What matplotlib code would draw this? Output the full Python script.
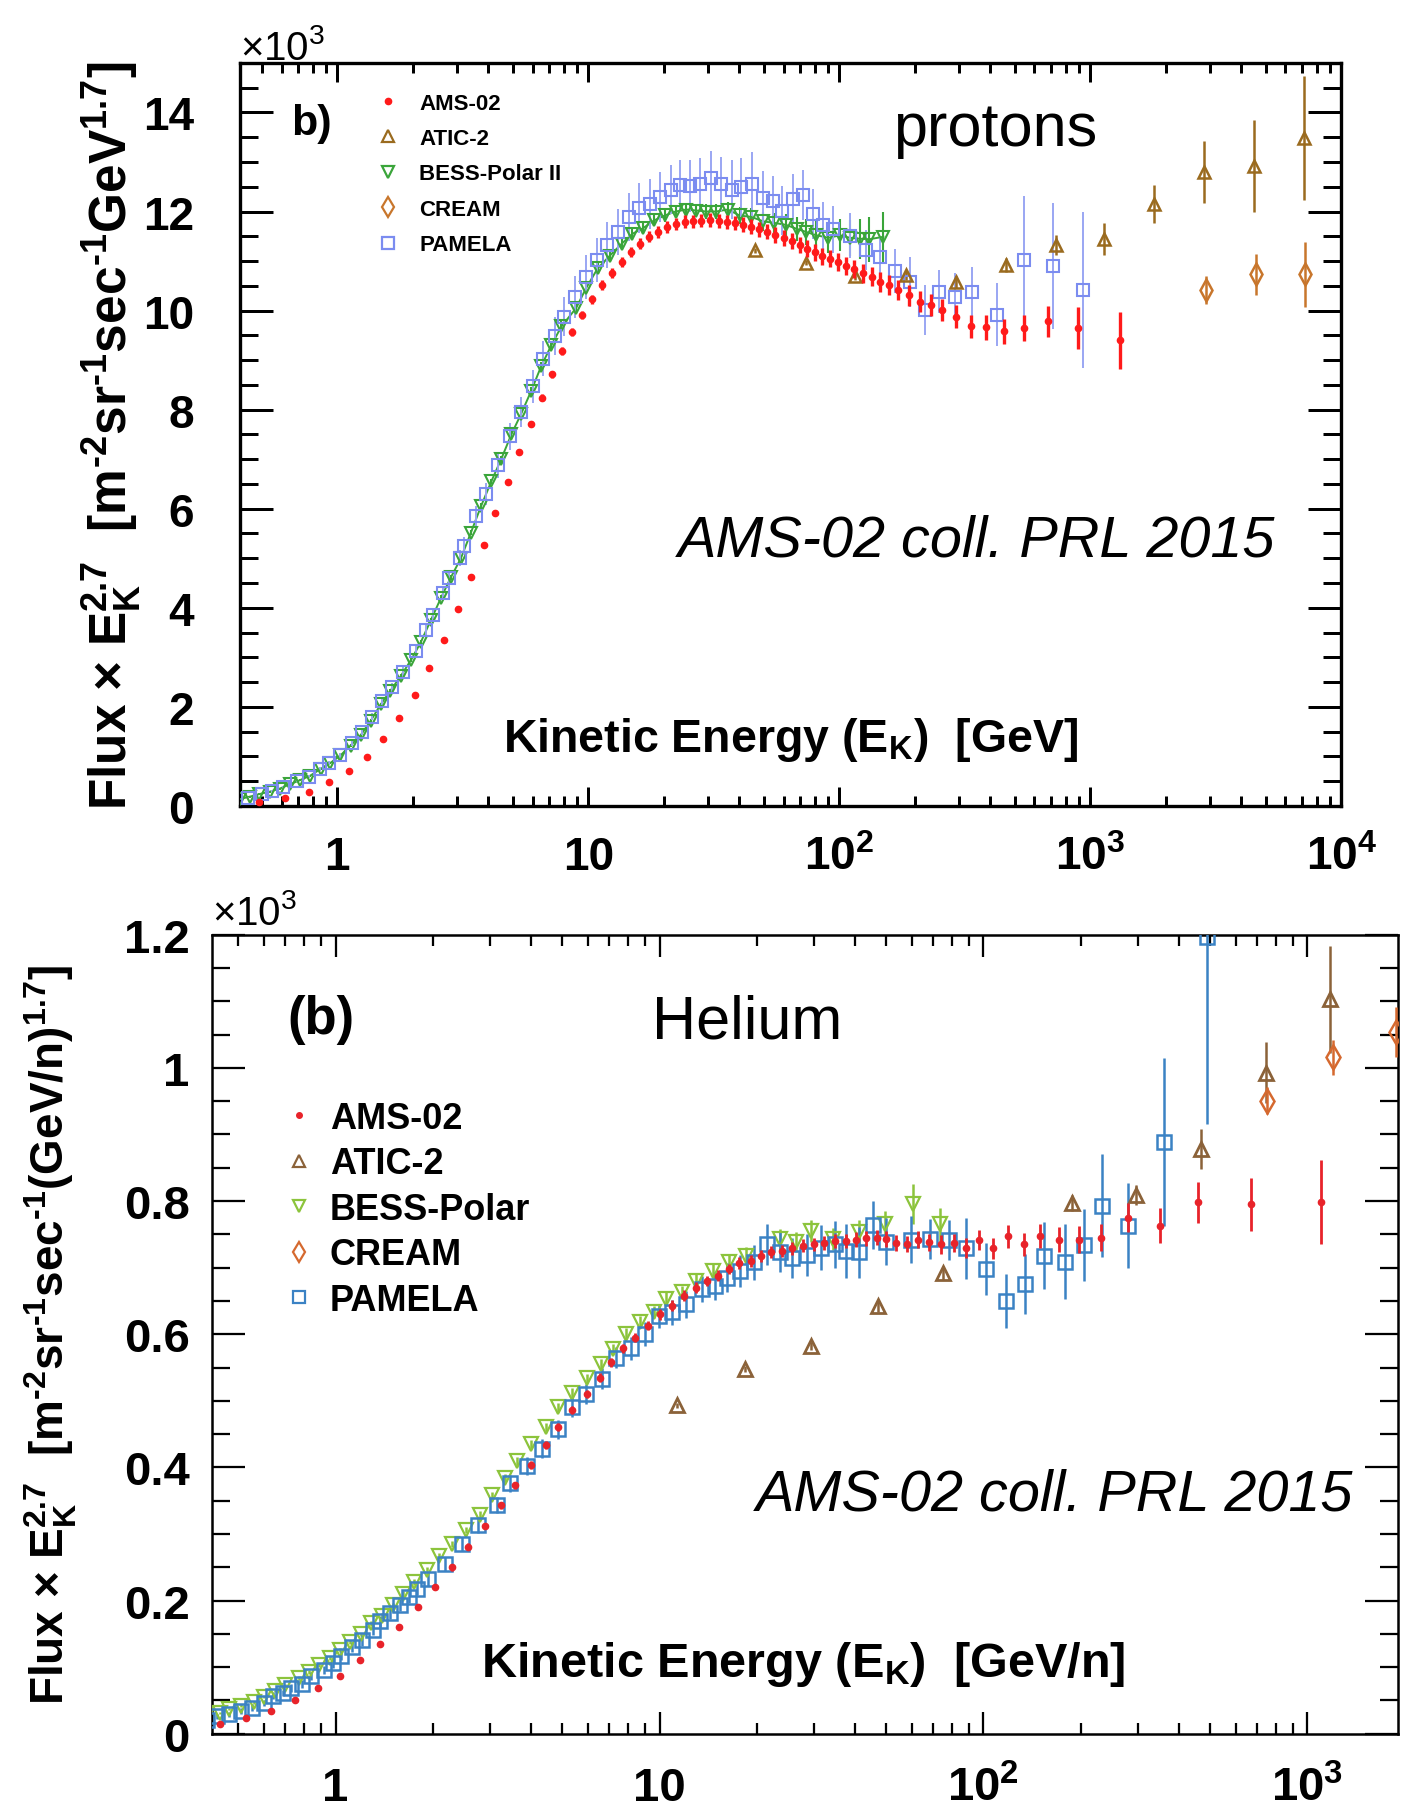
import matplotlib
matplotlib.use("Agg")
import matplotlib.pyplot as plt
from matplotlib.lines import Line2D
from matplotlib.ticker import FixedLocator, LogLocator, NullFormatter, MultipleLocator

plt.rcParams['font.family'] = ['Liberation Sans', 'DejaVu Sans']
plt.rcParams['mathtext.fontset'] = 'custom'
plt.rcParams['mathtext.rm'] = 'Liberation Sans:bold'
plt.rcParams['mathtext.bf'] = 'Liberation Sans:bold'
plt.rcParams['mathtext.it'] = 'Liberation Sans:italic:bold'
plt.rcParams['mathtext.sf'] = 'Liberation Sans'

# ---------------- protons (values in units of 10^3) ----------------
p_ams_e = [0.49, 0.62, 0.77, 0.93, 1.11, 1.31, 1.52, 1.77, 2.04, 2.33,
           2.67, 3.02, 3.40, 3.83, 4.27, 4.77, 5.30, 5.89, 6.52, 7.19,
           7.83, 8.63, 9.45, 10.4, 11.4, 12.4, 13.6, 14.8, 16.1, 17.5,
           18.9, 20.6, 22.3, 24.2, 26.2, 28.1, 30.6, 33.1, 35.7, 38.4,
           41.3, 44.7, 48.1, 51.7, 55.6, 60.2, 64.7, 69.5, 74.7, 80.3,
           85.7, 92.1, 99.0, 106, 115, 124, 135, 146, 158, 171,
           190, 210, 232, 258, 293, 335, 384, 452, 546, 680, 898, 1313]
p_ams_v = [0.07, 0.17, 0.29, 0.48, 0.71, 0.99, 1.36, 1.77, 2.24, 2.78,
           3.36, 3.98, 4.62, 5.27, 5.92, 6.54, 7.14, 7.71, 8.24, 8.71,
           9.18, 9.56, 9.91, 10.23, 10.52, 10.75, 10.98, 11.18, 11.35, 11.49,
           11.59, 11.69, 11.74, 11.79, 11.80, 11.81, 11.82, 11.81, 11.79, 11.77,
           11.73, 11.69, 11.64, 11.59, 11.53, 11.47, 11.40, 11.33, 11.25, 11.18,
           11.10, 11.05, 10.98, 10.90, 10.84, 10.75, 10.68, 10.58, 10.52, 10.42,
           10.31, 10.18, 10.11, 10.01, 9.88, 9.68, 9.66, 9.58, 9.65, 9.78, 9.65, 9.40]
p_ams_err = [0.03, 0.03, 0.03, 0.03, 0.03, 0.03, 0.04, 0.04, 0.04, 0.04,
             0.05, 0.05, 0.05, 0.05, 0.06, 0.06, 0.06, 0.07, 0.07, 0.07,
             0.08, 0.08, 0.09, 0.09, 0.10, 0.10, 0.10, 0.10, 0.11, 0.11,
             0.12, 0.12, 0.12, 0.13, 0.13, 0.13, 0.14, 0.14, 0.14, 0.14,
             0.15, 0.15, 0.15, 0.15, 0.16, 0.16, 0.16, 0.16, 0.17, 0.17,
             0.17, 0.17, 0.18, 0.18, 0.18, 0.19, 0.19, 0.20, 0.20, 0.20,
             0.21, 0.21, 0.22, 0.22, 0.23, 0.23, 0.25, 0.25, 0.27, 0.32, 0.42, 0.57]

p_pam_e = [0.44, 0.50, 0.55, 0.61, 0.69, 0.77, 0.85, 0.93, 1.03, 1.15,
           1.26, 1.38, 1.51, 1.66, 1.82, 2.06, 2.26, 2.41, 2.63, 2.80,
           3.07, 3.21, 3.58, 3.90, 4.37, 4.86, 5.41, 6.03, 6.61, 7.36,
           8.03, 8.86, 9.80, 10.8, 11.9, 13.2, 14.6, 16.0, 17.6, 19.3,
           21.3, 23.3, 25.5, 27.9, 30.9, 33.7, 37.3, 40.8, 45.1, 49.5,
           54.6, 59.3, 65.4, 71.6, 78.3, 86.3, 94.8, 110, 128, 146,
           167, 191, 219, 251, 290, 338, 424, 546, 710, 938]
p_pam_v = [0.17, 0.25, 0.30, 0.38, 0.51, 0.59, 0.74, 0.86, 1.02, 1.27,
           1.50, 1.80, 2.12, 2.40, 2.70, 3.12, 3.55, 3.86, 4.30, 4.60,
           5.00, 5.25, 5.86, 6.29, 6.88, 7.46, 7.95, 8.47, 9.03, 9.49,
           9.88, 10.28, 10.68, 11.02, 11.32, 11.59, 11.89, 12.07, 12.15, 12.29,
           12.44, 12.54, 12.51, 12.56, 12.67, 12.56, 12.44, 12.49, 12.56, 12.27,
           12.22, 12.02, 12.25, 12.33, 11.95, 11.72, 11.64, 11.51, 11.22, 11.08,
           10.80, 10.58, 10.01, 10.38, 10.28, 10.37, 9.92, 11.02, 10.90, 10.42]
p_pam_err = [0.02, 0.02, 0.02, 0.03, 0.03, 0.03, 0.04, 0.04, 0.05, 0.05,
             0.06, 0.07, 0.08, 0.09, 0.10, 0.11, 0.12, 0.13, 0.14, 0.15,
             0.16, 0.18, 0.20, 0.22, 0.25, 0.28, 0.30, 0.33, 0.35, 0.38,
             0.40, 0.42, 0.44, 0.45, 0.46, 0.47, 0.48, 0.50, 0.50, 0.50,
             0.50, 0.50, 0.52, 0.52, 0.55, 0.55, 0.60, 0.60, 0.65, 0.55,
             0.50, 0.50, 0.50, 0.50, 0.50, 0.48, 0.48, 0.45, 0.40, 0.40,
             0.45, 0.50, 0.50, 0.43, 0.47, 0.50, 0.64, 1.30, 1.27, 1.57]

p_bess_e = [0.41, 0.45, 0.49, 0.54, 0.59, 0.65, 0.71, 0.78, 0.86, 0.94,
            1.03, 1.13, 1.24, 1.36, 1.49, 1.63, 1.79, 1.97, 2.15, 2.36,
            2.59, 2.84, 3.11, 3.41, 3.74, 4.11, 4.50, 4.94, 5.41, 5.93,
            6.50, 7.13, 7.82, 8.95, 9.80, 10.9, 12.2, 13.6, 15.0, 16.5,
            18.3, 20.2, 22.3, 24.6, 27.0, 29.5, 32.3, 36.0, 40.1, 44.7,
            49.9, 55.2, 61.4, 67.7, 73.6, 81.2, 90.5, 101, 110, 121, 132, 150]
p_bess_v = [0.14, 0.19, 0.24, 0.29, 0.35, 0.44, 0.52, 0.61, 0.75, 0.87,
            1.02, 1.22, 1.43, 1.72, 2.05, 2.33, 2.62, 2.95, 3.30, 3.75,
            4.20, 4.62, 5.00, 5.52, 6.05, 6.55, 7.00, 7.50, 7.92, 8.38,
            8.88, 9.30, 9.68, 10.05, 10.45, 10.85, 11.11, 11.35, 11.55, 11.66,
            11.82, 11.92, 12.00, 12.04, 12.02, 12.00, 12.00, 12.04, 11.92, 11.89,
            11.80, 11.77, 11.73, 11.65, 11.59, 11.52, 11.47, 11.52, 11.47, 11.45, 11.44, 11.49]
p_bess_err = [0.02, 0.02, 0.02, 0.02, 0.02, 0.02, 0.02, 0.02, 0.02, 0.02,
              0.03, 0.03, 0.03, 0.03, 0.03, 0.03, 0.04, 0.04, 0.04, 0.04,
              0.05, 0.05, 0.05, 0.06, 0.06, 0.06, 0.07, 0.07, 0.08, 0.08,
              0.09, 0.09, 0.10, 0.10, 0.10, 0.11, 0.11, 0.11, 0.12, 0.12,
              0.12, 0.13, 0.13, 0.14, 0.14, 0.15, 0.15, 0.16, 0.17, 0.18,
              0.19, 0.20, 0.22, 0.24, 0.26, 0.28, 0.30, 0.32, 0.36, 0.40, 0.45, 0.50]

p_atic_e = [46.4, 73.6, 116, 184, 293, 460, 728, 1135, 1803, 2838, 4508, 7096]
p_atic_v = [11.22, 10.97, 10.70, 10.71, 10.58, 10.92, 11.32, 11.45, 12.15, 12.80, 12.92, 13.49]
p_atic_err = [0.05, 0.06, 0.08, 0.10, 0.12, 0.15, 0.20, 0.32, 0.38, 0.62, 0.92, 1.25]

p_cream_e = [2897, 4560, 7190]
p_cream_v = [10.42, 10.73, 10.73]
p_cream_err = [0.28, 0.41, 0.65]

# ---------------- helium (values in units of 10^3) ----------------
h_ams_e = [0.44, 0.53, 0.63, 0.75, 0.88, 1.03, 1.19, 1.37, 1.57, 1.79,
           2.03, 2.29, 2.57, 2.89, 3.23, 3.59, 4.00, 4.45, 4.86, 5.38,
           5.95, 6.55, 7.10, 7.70, 8.37, 9.20, 10.0, 10.9, 11.9, 13.0,
           14.0, 15.1, 16.4, 17.6, 19.2, 20.6, 22.1, 23.9, 25.7, 27.7,
           29.9, 32.1, 34.7, 37.5, 40.3, 43.4, 46.8, 50.0, 53.7, 57.9,
           62.6, 68.1, 73.9, 80.8, 88.3, 97.0, 107, 119, 133, 149,
           171, 197, 231, 279, 350, 460, 668, 1102]
h_ams_v = [0.015, 0.024, 0.034, 0.050, 0.068, 0.087, 0.110, 0.135, 0.161, 0.190,
           0.220, 0.250, 0.281, 0.312, 0.343, 0.373, 0.404, 0.433, 0.461, 0.486,
           0.510, 0.535, 0.558, 0.579, 0.595, 0.613, 0.630, 0.643, 0.658, 0.670,
           0.680, 0.688, 0.698, 0.707, 0.710, 0.717, 0.723, 0.725, 0.729, 0.733,
           0.735, 0.737, 0.740, 0.740, 0.742, 0.744, 0.745, 0.743, 0.737, 0.735,
           0.742, 0.738, 0.735, 0.737, 0.730, 0.742, 0.729, 0.747, 0.735, 0.747,
           0.742, 0.742, 0.745, 0.775, 0.763, 0.798, 0.795, 0.798]
h_ams_err = [0.003, 0.003, 0.003, 0.003, 0.003, 0.003, 0.004, 0.004, 0.004, 0.004,
             0.004, 0.005, 0.005, 0.005, 0.005, 0.005, 0.006, 0.006, 0.006, 0.006,
             0.006, 0.007, 0.007, 0.007, 0.007, 0.007, 0.008, 0.008, 0.008, 0.008,
             0.008, 0.008, 0.008, 0.009, 0.009, 0.009, 0.009, 0.009, 0.010, 0.010,
             0.010, 0.010, 0.010, 0.011, 0.011, 0.011, 0.011, 0.012, 0.012, 0.012,
             0.013, 0.013, 0.014, 0.014, 0.015, 0.015, 0.016, 0.017, 0.017, 0.018,
             0.019, 0.020, 0.020, 0.022, 0.026, 0.031, 0.040, 0.063]

h_pam_e = [0.40, 0.43, 0.47, 0.51, 0.55, 0.60, 0.64, 0.69, 0.73, 0.79,
           0.84, 0.92, 0.98, 1.04, 1.12, 1.21, 1.30, 1.37, 1.47, 1.58,
           1.68, 1.78, 1.93, 2.17, 2.46, 2.75, 3.15, 3.45, 3.89, 4.34,
           4.86, 5.38, 5.93, 6.66, 7.35, 8.18, 9.00, 9.95, 10.9, 12.1,
           13.5, 14.8, 16.1, 17.7, 19.5, 21.4, 23.5, 25.7, 28.5, 31.5,
           34.7, 37.7, 41.4, 45.7, 50.0, 59.8, 68.4, 78.5, 88.3, 102,
           117, 134, 154, 178, 205, 233, 279, 361, 490]
h_pam_v = [0.021, 0.026, 0.029, 0.034, 0.039, 0.046, 0.057, 0.061, 0.069, 0.075,
           0.086, 0.096, 0.106, 0.117, 0.130, 0.140, 0.156, 0.169, 0.182, 0.193,
           0.205, 0.218, 0.232, 0.255, 0.285, 0.314, 0.343, 0.376, 0.402, 0.428,
           0.457, 0.490, 0.510, 0.533, 0.565, 0.579, 0.600, 0.628, 0.633, 0.645,
           0.668, 0.673, 0.685, 0.695, 0.708, 0.735, 0.723, 0.714, 0.719, 0.730,
           0.735, 0.725, 0.723, 0.764, 0.739, 0.742, 0.743, 0.742, 0.729, 0.698,
           0.650, 0.675, 0.718, 0.709, 0.734, 0.793, 0.763, 0.889, 1.196]
h_pam_err = [0.004, 0.004, 0.004, 0.004, 0.005, 0.005, 0.005, 0.005, 0.006, 0.006,
             0.006, 0.006, 0.007, 0.007, 0.007, 0.008, 0.008, 0.008, 0.009, 0.009,
             0.009, 0.010, 0.010, 0.011, 0.011, 0.012, 0.012, 0.013, 0.013, 0.014,
             0.014, 0.015, 0.015, 0.016, 0.016, 0.017, 0.018, 0.018, 0.019, 0.020,
             0.020, 0.021, 0.022, 0.024, 0.026, 0.031, 0.030, 0.030, 0.032, 0.034,
             0.035, 0.040, 0.038, 0.036, 0.035, 0.035, 0.030, 0.030, 0.046, 0.039,
             0.041, 0.045, 0.050, 0.056, 0.054, 0.077, 0.064, 0.126, 0.280]

h_bess_e = [0.40, 0.44, 0.47, 0.51, 0.56, 0.60, 0.65, 0.70, 0.77, 0.83,
            0.89, 0.96, 1.03, 1.11, 1.20, 1.29, 1.39, 1.50, 1.62, 1.75,
            1.91, 2.08, 2.28, 2.52, 2.79, 3.04, 3.33, 3.63, 4.02, 4.45,
            4.86, 5.38, 5.95, 6.59, 7.20, 7.87, 8.71, 9.63, 10.5, 11.7,
            13.0, 14.6, 16.4, 18.5, 23.5, 26.4, 29.4, 34.3, 41.4, 49.8, 60.4, 73.4]
h_bess_v = [0.029, 0.031, 0.037, 0.042, 0.047, 0.055, 0.064, 0.073, 0.083, 0.093,
            0.103, 0.114, 0.125, 0.138, 0.149, 0.166, 0.177, 0.193, 0.210, 0.228,
            0.246, 0.267, 0.285, 0.306, 0.329, 0.358, 0.384, 0.409, 0.435, 0.461,
            0.490, 0.512, 0.534, 0.555, 0.578, 0.601, 0.619, 0.633, 0.653, 0.663,
            0.680, 0.695, 0.708, 0.718, 0.743, 0.738, 0.755, 0.743, 0.753, 0.765, 0.795, 0.765]
h_bess_err = [0.002, 0.002, 0.002, 0.002, 0.002, 0.002, 0.002, 0.002, 0.003, 0.003,
              0.003, 0.003, 0.003, 0.003, 0.003, 0.004, 0.004, 0.004, 0.004, 0.004,
              0.004, 0.005, 0.005, 0.005, 0.005, 0.005, 0.006, 0.006, 0.006, 0.006,
              0.007, 0.007, 0.007, 0.008, 0.008, 0.008, 0.009, 0.009, 0.010, 0.010,
              0.011, 0.011, 0.012, 0.013, 0.015, 0.015, 0.016, 0.016, 0.018, 0.020, 0.030, 0.025]

h_atic_e = [11.3, 18.3, 29.4, 47.1, 74.8, 188, 296, 470, 743, 1175]
h_atic_v = [0.493, 0.548, 0.583, 0.642, 0.692, 0.797, 0.809, 0.878, 0.993, 1.103]
h_atic_err = [0.004, 0.005, 0.006, 0.008, 0.010, 0.012, 0.015, 0.030, 0.046, 0.080]

h_cream_e = [751, 1202, 1883]
h_cream_v = [0.951, 1.016, 1.054]
h_cream_err = [0.020, 0.026, 0.038]

exp_names = ["AMS-02", "ATIC-2", "BESS-Polar II", "CREAM", "PAMELA"]
exp_names_he = ["AMS-02", "ATIC-2", "BESS-Polar", "CREAM", "PAMELA"]

col_top = {"AMS-02": "#ff1a1a", "ATIC-2": "#9a6b1f", "BESS": "#3aa53a",
           "CREAM": "#c8762c", "PAMELA": "#7b8cf0"}
col_bot = {"AMS-02": "#e8232a", "ATIC-2": "#8b6239", "BESS": "#8cc43c",
           "CREAM": "#d5692f", "PAMELA": "#3b82c4"}


def open_series(ax, e, v, err, marker, color, ms, mew, elw, ecolor=None, z=3):
    ax.errorbar(e, v, yerr=err, fmt=marker, ms=ms, mfc='none', mec=color, mew=mew,
                ecolor=ecolor or color, elinewidth=elw, capsize=0, zorder=z)


def style_axes(ax, xlen, ylen, lw, ypad, xpad, fs):
    for s in ax.spines.values():
        s.set_linewidth(lw)
    ax.tick_params(which='both', direction='in', top=True, right=True, width=lw * 0.9)
    ax.tick_params(axis='x', which='major', length=xlen, pad=xpad, labelsize=fs)
    ax.tick_params(axis='x', which='minor', length=xlen * 0.5)
    ax.tick_params(axis='y', which='major', length=ylen, pad=ypad, labelsize=fs)
    ax.tick_params(axis='y', which='minor', length=ylen * 0.55)
    for lab in ax.get_xticklabels() + ax.get_yticklabels():
        lab.set_fontweight('bold')


fig = plt.figure(figsize=(14.08, 18.15), dpi=100)

# ======================= protons =======================
ax1 = fig.add_axes([0.1705, 0.5554, 0.782, 0.4094])
ax1.set_xscale('log')

ax1.plot(p_bess_e, p_bess_v, '-', color=col_top["BESS"], lw=1.4, zorder=2)
open_series(ax1, p_bess_e, p_bess_v, p_bess_err, 'v', col_top["BESS"], 8.5, 1.5, 1.5)
open_series(ax1, p_pam_e, p_pam_v, p_pam_err, 's', col_top["PAMELA"], 8, 1.5, 1.4, ecolor="#9aa6f3")
open_series(ax1, p_atic_e, p_atic_v, p_atic_err, '^', col_top["ATIC-2"], 9, 1.8, 1.8)
open_series(ax1, p_cream_e, p_cream_v, p_cream_err, 'd', col_top["CREAM"], 11, 1.8, 1.8)
ax1.errorbar(p_ams_e, p_ams_v, yerr=p_ams_err, fmt='o', ms=4.5, color=col_top["AMS-02"],
             elinewidth=2.4, capsize=0, zorder=5)

ax1.set_xlim(0.41, 1e4)
ax1.set_ylim(0, 15)
ax1.xaxis.set_minor_locator(LogLocator(base=10, subs=range(2, 10), numticks=20))
ax1.xaxis.set_minor_formatter(NullFormatter())
ax1.set_xticks([1, 10, 100, 1000, 10000],
               ['1', '10', r'$\mathrm{10^{2}}$', r'$\mathrm{10^{3}}$', r'$\mathrm{10^{4}}$'])
ax1.yaxis.set_minor_locator(MultipleLocator(0.5))
ax1.set_yticks([0, 2, 4, 6, 8, 10, 12, 14], ['0', '2', '4', '6', '8', '10', '12', '14'])
style_axes(ax1, xlen=14, ylen=24, lw=2.4, ypad=33, xpad=21, fs=33)

ax1.set_ylabel(r"Flux × $\mathrm{E_{K}^{2.7}}$  [m$^{\text{-2}}$sr$^{\text{-1}}$sec$^{\text{-1}}$GeV$^{\mathrm{1.7}}$]",
               fontsize=37, fontweight='bold')
ax1.yaxis.set_label_coords(-0.088, 0.5)
ax1.text(0.5, 0.09, r"Kinetic Energy (E$_{\mathrm{K}}$)  [GeV]", transform=ax1.transAxes,
         ha='center', va='center', fontsize=33.5, fontweight='bold')
ax1.text(0.0, 0.994, r"×$\mathsf{10^{3}}$", transform=ax1.transAxes, ha='left', va='bottom',
         fontsize=29)
ax1.text(0.065, 0.919, "b)", transform=ax1.transAxes, ha='center', va='center',
         fontsize=31, fontweight='bold')
ax1.text(0.686, 0.911, "protons", transform=ax1.transAxes, ha='center', va='center', fontsize=44)
ax1.text(0.669, 0.357, "AMS-02 coll. PRL 2015", transform=ax1.transAxes, ha='center',
         va='center', fontsize=41.5, style='italic')

h_top = [Line2D([], [], ls='none', marker='o', ms=4.5, color=col_top["AMS-02"]),
         Line2D([], [], ls='none', marker='^', ms=8, mfc='none', mec=col_top["ATIC-2"], mew=1.6),
         Line2D([], [], ls='none', marker='v', ms=8, mfc='none', mec=col_top["BESS"], mew=1.6),
         Line2D([], [], ls='none', marker='d', ms=10, mfc='none', mec=col_top["CREAM"], mew=1.6),
         Line2D([], [], ls='none', marker='s', ms=8, mfc='none', mec=col_top["PAMELA"], mew=1.6)]
ax1.legend(h_top, exp_names, loc='upper left', bbox_to_anchor=(0.1244, 0.960),
           frameon=False, prop={'weight': 'bold', 'size': 16}, handlelength=1.0,
           handletextpad=0.9, labelspacing=0.65, borderpad=0, borderaxespad=0)

# ======================= helium =======================
ax2 = fig.add_axes([0.1505, 0.04424, 0.8422, 0.4402])
ax2.set_xscale('log')

open_series(ax2, h_bess_e, h_bess_v, h_bess_err, 'v', col_bot["BESS"], 9.5, 1.6, 1.8)
open_series(ax2, h_pam_e, h_pam_v, h_pam_err, 's', col_bot["PAMELA"], 9.5, 1.8, 1.8)
open_series(ax2, h_atic_e, h_atic_v, h_atic_err, '^', col_bot["ATIC-2"], 10, 2.0, 1.8)
open_series(ax2, h_cream_e, h_cream_v, h_cream_err, 'd', col_bot["CREAM"], 12, 1.8, 1.8)
ax2.errorbar(h_ams_e, h_ams_v, yerr=h_ams_err, fmt='o', ms=4.5, color=col_bot["AMS-02"],
             elinewidth=2.0, capsize=0, zorder=5)

ax2.set_xlim(0.415, 1900)
ax2.set_ylim(0, 1.2)
ax2.xaxis.set_minor_locator(LogLocator(base=10, subs=range(2, 10), numticks=20))
ax2.xaxis.set_minor_formatter(NullFormatter())
ax2.set_xticks([1, 10, 100, 1000],
               ['1', '10', r'$\mathrm{10^{2}}$', r'$\mathrm{10^{3}}$'])
ax2.yaxis.set_minor_locator(MultipleLocator(0.05))
ax2.set_yticks([0, 0.2, 0.4, 0.6, 0.8, 1.0, 1.2], ['0', '0.2', '0.4', '0.6', '0.8', '1', '1.2'])
style_axes(ax2, xlen=16, ylen=24, lw=1.8, ypad=16, xpad=23, fs=34)

ax2.set_ylabel(r"Flux × $\mathrm{E_{K}^{2.7}}$  [m$^{\text{-2}}$sr$^{\text{-1}}$sec$^{\text{-1}}$(GeV/n)$^{\mathrm{1.7}}$]",
               fontsize=33, fontweight='bold')
ax2.yaxis.set_label_coords(-0.112, 0.5)
ax2.text(0.499, 0.0873, r"Kinetic Energy (E$_{\mathrm{K}}$)  [GeV/n]", transform=ax2.transAxes,
         ha='center', va='center', fontsize=35, fontweight='bold')
ax2.text(0.0, 1.004, r"×$\mathsf{10^{3}}$", transform=ax2.transAxes, ha='left', va='bottom',
         fontsize=29)
ax2.text(0.092, 0.8945, "(b)", transform=ax2.transAxes, ha='center', va='center',
         fontsize=38, fontweight='bold')
ax2.text(0.451, 0.8914, "Helium", transform=ax2.transAxes, ha='center', va='center', fontsize=44)
ax2.text(0.711, 0.299, "AMS-02 coll. PRL 2015", transform=ax2.transAxes, ha='center',
         va='center', fontsize=41.5, style='italic')

h_bot = [Line2D([], [], ls='none', marker='o', ms=4, color=col_bot["AMS-02"]),
         Line2D([], [], ls='none', marker='^', ms=8, mfc='none', mec=col_bot["ATIC-2"], mew=1.6),
         Line2D([], [], ls='none', marker='v', ms=8, mfc='none', mec=col_bot["BESS"], mew=1.6),
         Line2D([], [], ls='none', marker='d', ms=10, mfc='none', mec=col_bot["CREAM"], mew=1.6),
         Line2D([], [], ls='none', marker='s', ms=8, mfc='none', mec=col_bot["PAMELA"], mew=1.6)]
ax2.legend(h_bot, exp_names_he, loc='upper left', bbox_to_anchor=(0.0616, 0.792),
           frameon=False, prop={'weight': 'bold', 'size': 26}, handlelength=0.8,
           handletextpad=0.44, labelspacing=0.29, borderpad=0, borderaxespad=0)

fig.savefig("out.png", dpi=100)
